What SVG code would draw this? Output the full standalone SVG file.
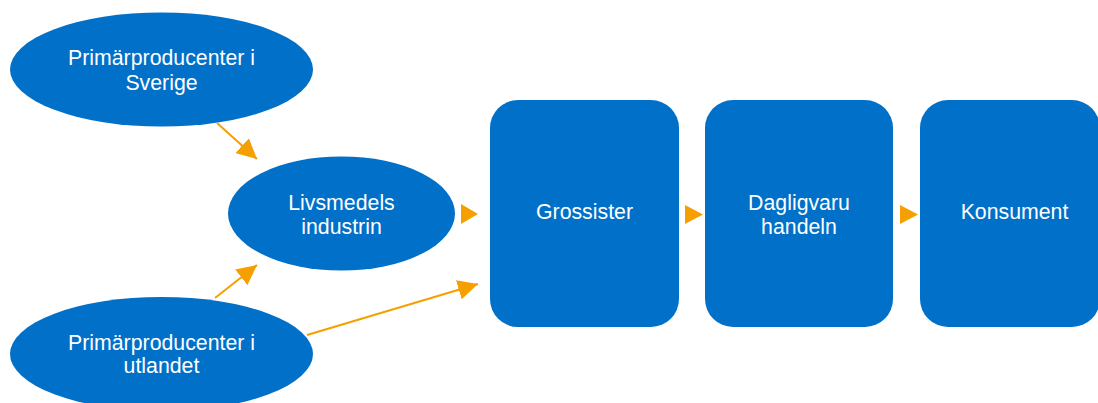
<svg xmlns="http://www.w3.org/2000/svg" width="1098" height="403" viewBox="0 0 1098 403">
<style>
.n{fill:#0070C8}
.t{font-family:"Liberation Sans",Arial,sans-serif;font-size:21.3px;fill:#fff;text-anchor:middle}
.c{stroke:#F59F00;stroke-width:2;fill:none}
.h{fill:#F59F00}
</style>
<defs>
<marker id="ab" viewBox="0 0 20 20" refX="20" refY="10" markerWidth="20" markerHeight="20" markerUnits="userSpaceOnUse" orient="auto">
<path d="M0,0L20,10L0,20Z" class="h"/>
</marker>
</defs>
<rect width="1098" height="403" fill="#fff"/>
<g id="n1"><ellipse class="n" cx="161.5" cy="69.5" rx="151.5" ry="57"/><text class="t" x="161.5" y="65">Primärproducenter i</text><text class="t" x="161.5" y="90">Sverige</text></g>
<g id="n2"><ellipse class="n" cx="341.5" cy="213.5" rx="113.5" ry="57"/><text class="t" x="341.5" y="210">Livsmedels</text><text class="t" x="341.5" y="234">industrin</text></g>
<g id="n3"><ellipse class="n" cx="161.5" cy="354" rx="151.5" ry="57"/><text class="t" x="161.5" y="350">Primärproducenter i</text><text class="t" x="161.5" y="373">utlandet</text></g>
<g id="n4"><rect class="n" x="490" y="100" width="189" height="227" rx="28"/><text class="t" x="584.5" y="219">Grossister</text></g>
<g id="n5"><rect class="n" x="705" y="100" width="188" height="227" rx="28"/><text class="t" x="799" y="210">Dagligvaru</text><text class="t" x="799" y="234">handeln</text></g>
<g id="n6"><rect class="n" x="920" y="100" width="180" height="227" rx="28"/><text class="t" x="1014.5" y="219">Konsument</text></g>
<g id="edges">
<path class="c" d="M217,123L257,159" marker-end="url(#ab)"/>
<path class="c" d="M215,298L257,265" marker-end="url(#ab)"/>
<path class="c" d="M307,335L478,284" marker-end="url(#ab)"/>
<path class="h" d="M461,204L478,214L461,224Z"/>
<path class="h" d="M685,205L703,214.5L685,224Z"/>
<path class="h" d="M900,205L918,214.5L900,224Z"/>
</g>
</svg>
